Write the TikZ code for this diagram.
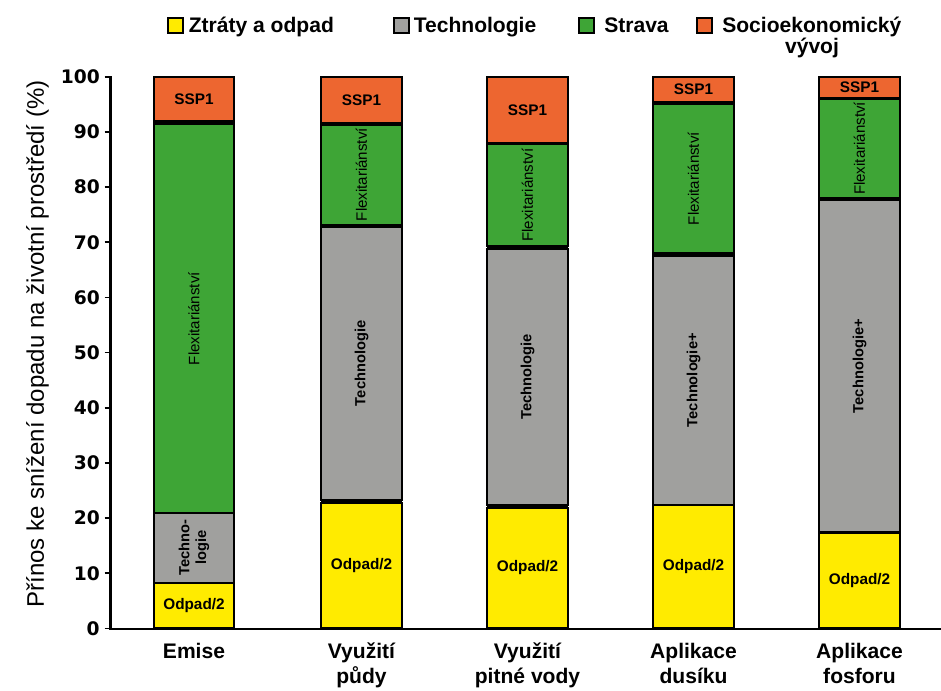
\documentclass[tikz,border=0pt]{standalone}
\usepackage{fontspec}
\setmainfont{Liberation Sans}
\newfontfamily\tickfont{DejaVu Sans}
\definecolor{cyel}{RGB}{255,235,0}
\definecolor{cgray}{RGB}{160,160,158}
\definecolor{cgreen}{RGB}{62,165,54}
\definecolor{corange}{RGB}{237,102,48}
\tikzset{
  seg/.style={draw=black, line width=1.6pt},
  lab/.style={font=\fontsize{11.5}{12}\selectfont\bfseries, inner sep=0},
  vlab/.style={font=\fontsize{11.3}{12}\selectfont, rotate=90, inner sep=0},
  vblab/.style={font=\fontsize{11}{12}\selectfont\bfseries, rotate=90, inner sep=0},
  legbox/.style={draw=black, line width=1.5pt},
  legtext/.style={font=\fontsize{15.8}{18}\selectfont\bfseries, inner sep=0, anchor=base west},
  cattext/.style={font=\fontsize{15.8}{18}\selectfont\bfseries, inner sep=0, anchor=base},
  ticktext/.style={font=\tickfont\fontsize{14}{16}\selectfont\bfseries, inner sep=0, anchor=east},
  axisline/.style={line width=1.6pt}
}
\newcommand\segm[8]{%
  \draw[seg, fill=#5] (#1,#2) rectangle (#3,#4);
  \node[#7] (#6) at ({(#1+#3)/2},{(#2+#4)/2}) {#8};}
\newcommand\barback[2]{\fill[black] (#1,0) rectangle (#2,100);}
\begin{document}
\begin{tikzpicture}[x=0.75pt,y=-0.75pt]
\useasboundingbox (0,0) rectangle (941,690);
% legend
\draw[legbox, fill=cyel] (167.5,17.5) rectangle (182.5,32.5);
\node[legtext] (l1) at (188.5,32.5) {Ztráty a odpad};
\draw[legbox, fill=cgray] (393.5,17.5) rectangle (408.5,32.5);
\node[legtext] (l2) at (413.5,32.5) {Technologie};
\draw[legbox, fill=cgreen] (578.5,17.5) rectangle (593.5,32.5);
\node[legtext] (l3) at (604,32.5) {Strava};
\draw[legbox, fill=corange] (697,17.5) rectangle (712,32.5);
\node[legtext] (l4) at (722,32.5) {Socioekonomický};
\node[cattext] (l4b) at (812,53.5) {vývoj};
% axes
\draw[axisline] (110.5,76) -- (110.5,629.3) -- (941,629.3);
\foreach \v in {0,10,...,100}{
  \draw[line width=1.2pt] (104.5,{628.4-5.516*\v}) -- (110.5,{628.4-5.516*\v});
  \node[ticktext] (t\v) at (100,{628.4-5.516*\v}) {\v};
}
\node[font=\fontsize{18}{18}\selectfont, rotate=90, inner sep=0] (ytitle) at (37.5,344) {Přínos ke snížení dopadu na životní prostředí (\%)};
% bars
\begin{scope}[shift={(0,628.4)}, y=4.137pt]
\barback{154}{234}
\barback{321}{402}
\barback{487}{568}
\barback{653}{734}
\barback{819}{900}
\segm{154}{0}{234}{8.3}{cyel}{b1y}{lab}{Odpad/2}
\segm{154}{8.3}{234}{20.9}{cgray}{b1g}{vblab, align=center, font=\fontsize{11}{12.5}\selectfont\bfseries}{Techno-\\logie}
\segm{154}{20.9}{234}{91.4}{cgreen}{b1v}{vlab}{Flexitariánství}
\segm{154}{91.9}{234}{100}{corange}{b1o}{lab}{SSP1}
%
\segm{321}{0}{402}{22.8}{cyel}{b2y}{lab}{Odpad/2}
\segm{321}{23.3}{402}{72.8}{cgray}{b2g}{vblab}{Technologie}
\segm{321}{73.2}{402}{91.3}{cgreen}{b2v}{vlab}{Flexitariánství}
\segm{321}{91.6}{402}{100}{corange}{b2o}{lab}{SSP1}
%
\segm{487}{0}{568}{21.9}{cyel}{b3y}{lab}{Odpad/2}
\segm{487}{22.4}{568}{68.8}{cgray}{b3g}{vblab}{Technologie}
\segm{487}{69.3}{568}{87.8}{cgreen}{b3v}{vlab}{Flexitariánství}
\segm{487}{88}{568}{100}{corange}{b3o}{lab}{SSP1}
%
\segm{653}{0}{734}{22.3}{cyel}{b4y}{lab}{Odpad/2}
\segm{653}{22.4}{734}{67.6}{cgray}{b4g}{vblab}{Technologie+}
\segm{653}{68.1}{734}{95.0}{cgreen}{b4v}{vlab}{Flexitariánství}
\segm{653}{95.5}{734}{100}{corange}{b4o}{lab}{SSP1}
%
\segm{819}{0}{900}{17.3}{cyel}{b5y}{lab}{Odpad/2}
\segm{819}{17.4}{900}{77.7}{cgray}{b5g}{vblab}{Technologie+}
\segm{819}{78.1}{900}{95.9}{cgreen}{b5v}{vlab}{Flexitariánství}
\segm{819}{96.2}{900}{100}{corange}{b5o}{lab}{SSP1}
\end{scope}
% category labels
\node[cattext] (c1) at (194,658.5) {Emise};
\node[cattext] (c2a) at (361.5,658.5) {Využití};
\node[cattext] (c2b) at (361.5,683) {půdy};
\node[cattext] (c3a) at (527.5,658.5) {Využití};
\node[cattext] (c3b) at (527.5,683) {pitné vody};
\node[cattext] (c4a) at (693.5,658.5) {Aplikace};
\node[cattext] (c4b) at (693.5,683) {dusíku};
\node[cattext] (c5a) at (859.5,658.5) {Aplikace};
\node[cattext] (c5b) at (859.5,683) {fosforu};
\end{tikzpicture}
\end{document}
